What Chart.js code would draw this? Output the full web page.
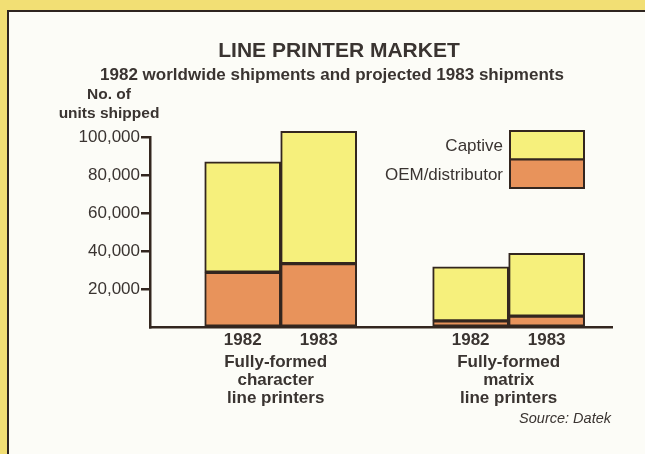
<!DOCTYPE html>
<html>
<head>
<meta charset="utf-8">
<script src="https://cdn.jsdelivr.net/npm/chart.js@4"></script>
<style>
  html, body { margin: 0; padding: 0; }
  body { width: 645px; height: 454px; background: #f2df74; position: relative; overflow: hidden; }
  #panel { position: absolute; left: 7px; top: 10px; width: 700px; height: 500px;
           background: #fcfcf7; border-left: 2.5px solid #2e2520; border-top: 2.5px solid #2e2520; }
  #wrap { position: absolute; left: 0; top: 0; width: 645px; height: 454px; }
</style>
</head>
<body>
<div id="panel"></div>
<div id="wrap"><canvas id="c" width="645" height="454"></canvas></div>
<script>
// ---- data ----
const title = 'LINE PRINTER MARKET';
const subtitle = '1982 worldwide shipments and projected 1983 shipments';
const yAxisTitle = ['No. of', 'units shipped'];
const groups = [['Fully-formed', 'character', 'line printers'], ['Fully-formed', 'matrix', 'line printers']];
const years = ['1982', '1983'];
const oemValues = [29000, 33500, 3500, 6000];
const captiveValues = [58000, 69500, 28300, 33000];
const seriesNames = ['Captive', 'OEM/distributor'];
const yTicks = [0, 20000, 40000, 60000, 80000, 100000];
const source = 'Source: Datek';

// ---- style ----
const DARK = '#33261f';
const TEXT = '#3a3431';
const YELLOW = '#f6f07c';
const ORANGE = '#e8935b';
const FONT = "'Liberation Sans', Arial, Helvetica, sans-serif";

// build positions: each group has years.length bars, groups separated by one empty slot
const slot = years.length + 1;
const xOf = (i) => Math.floor(i / years.length) * slot + (i % years.length);
const barCount = oemValues.length;
const xPos = Array.from({length: barCount}, (_, i) => xOf(i));

const decorPlugin = {
  id: 'decor',
  afterDraw(chart) {
    const ctx = chart.ctx;
    const xs = chart.scales.x;
    ctx.save();
    ctx.fillStyle = TEXT;
    ctx.textBaseline = 'alphabetic';
    ctx.textAlign = 'center';
    ctx.font = `bold 21px ${FONT}`;
    ctx.fillText(title, 339, 56.5);
    ctx.font = `bold 17px ${FONT}`;
    ctx.fillText(subtitle, 332, 80);
    ctx.font = `bold 15.5px ${FONT}`;
    ctx.fillText(yAxisTitle[0], 109, 98.5);
    ctx.fillText(yAxisTitle[1], 109, 118);
    // group labels
    ctx.font = `bold 17px ${FONT}`;
    groups.forEach((lines, g) => {
      const cx = xs.getPixelForValue(g * slot + (years.length - 1) / 2);
      lines.forEach((t, k) => ctx.fillText(t, cx - (g === 0 ? 5 : 0), 366.5 + k * 18.4));
    });
    // source
    ctx.textAlign = 'right';
    ctx.font = `italic 14.5px ${FONT}`;
    ctx.fillText(source, 611, 423);
    // legend
    const lx = 510, lw = 74, ly = 131, lh = 28.5;
    const ds = chart.data.datasets;
    const order = [1, 0]; // captive on top
    order.forEach((di, k) => {
      const y = ly + k * lh;
      ctx.fillStyle = ds[di].backgroundColor;
      ctx.fillRect(lx, y, lw, lh);
      ctx.lineWidth = 2;
      ctx.strokeStyle = DARK;
      ctx.strokeRect(lx, y, lw, lh);
      ctx.fillStyle = TEXT;
      ctx.font = `17px ${FONT}`;
      ctx.textAlign = 'right';
      ctx.fillText(ds[di].label, 503, y + 20);
    });
    ctx.restore();
  }
};

new Chart(document.getElementById('c'), {
  type: 'bar',
  data: {
    datasets: [
      {
        label: seriesNames[1],
        data: oemValues.map((v, i) => ({x: xPos[i], y: v})),
        backgroundColor: ORANGE,
        borderColor: DARK,
        borderWidth: 2,
        borderSkipped: false,
        clip: false,
        barPercentage: 1,
        categoryPercentage: 1
      },
      {
        label: seriesNames[0],
        data: captiveValues.map((v, i) => ({x: xPos[i], y: v})),
        backgroundColor: YELLOW,
        borderColor: DARK,
        borderWidth: 2,
        borderSkipped: false,
        clip: false,
        barPercentage: 1,
        categoryPercentage: 1
      }
    ]
  },
  options: {
    responsive: false,
    animation: false,
    devicePixelRatio: 1,
    layout: { padding: { left: 0, right: 33, top: 137, bottom: 96.5 } },
    plugins: { legend: { display: false }, title: { display: false }, tooltip: { enabled: false } },
    scales: {
      x: {
        type: 'linear',
        stacked: true,
        offset: false,
        min: -1.22,
        max: 4.86,
        afterBuildTicks(scale) { scale.ticks = xPos.map(v => ({value: v})); },
        afterFit(scale) { scale.height = 30; },
        grid: { display: false, drawTicks: false, offset: false },
        border: { display: true, color: DARK, width: 2.5 },
        ticks: {
          padding: 3,
          color: TEXT,
          font: { family: FONT, size: 17, weight: 'bold' },
          maxRotation: 0,
          autoSkip: false,
          callback(v) { const i = xPos.indexOf(v); return i >= 0 ? years[i % years.length] : ''; }
        }
      },
      y: {
        stacked: true,
        min: 0,
        max: 100000,
        afterBuildTicks(scale) { scale.ticks = yTicks.map(v => ({value: v})); },
        afterFit(scale) { scale.width = 150; },
        grid: {
          drawOnChartArea: false,
          drawTicks: true,
          tickLength: 9,
          lineWidth: 2.5,
          tickColor: (c) => (c.tick && c.tick.value === 0) ? 'rgba(0,0,0,0)' : DARK
        },
        border: { display: true, color: DARK, width: 2.5 },
        ticks: {
          padding: 1,
          color: TEXT,
          font: { family: FONT, size: 17 },
          callback(v) { return v === 0 ? '' : v.toLocaleString('en-US'); }
        }
      }
    }
  },
  plugins: [decorPlugin]
});
</script>
</body>
</html>
